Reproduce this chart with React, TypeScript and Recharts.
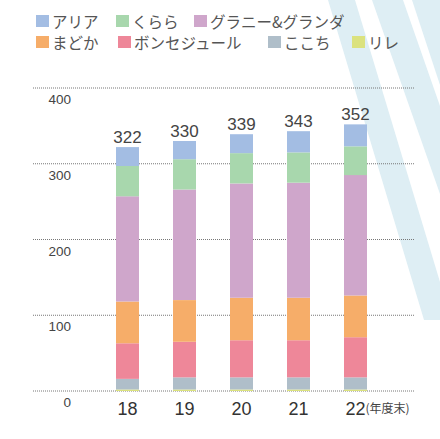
import { BarChart, Bar, XAxis, YAxis, CartesianGrid, LabelList } from 'recharts';

// fiscal years (end of year) and totals shown above the bars
const years = ['18', '19', '20', '21', '22'];
const totals = [322, 330, 339, 343, 352];

// per-series values
const aria = [25, 24, 25, 28, 29];
const kurara = [40, 40, 40, 40, 38];
const granny = [139, 146, 151, 152, 159];
const madoka = [55, 55, 56, 56, 55];
const bonse = [47, 47, 49, 49, 53];
const kokochi = [14, 16, 16, 16, 16];
const rire = [2, 2, 2, 2, 2];

const yTicks = [0, 100, 200, 300, 400];

// legend order (top of stack first)
const series = [
  { key: 'aria', name: 'アリア', color: '#a3bde3', values: aria },
  { key: 'kurara', name: 'くらら', color: '#a8d7ad', values: kurara },
  { key: 'granny', name: 'グラニー&グランダ', color: '#cfa6cb', values: granny },
  { key: 'madoka', name: 'まどか', color: '#f6ad69', values: madoka },
  { key: 'bonse', name: 'ボンセジュール', color: '#ee8799', values: bonse },
  { key: 'kokochi', name: 'ここち', color: '#afbec9', values: kokochi },
  { key: 'rire', name: 'リレ', color: '#dbe27e', values: rire },
];

const data = years.map((year, i) => {
  const row: Record<string, any> = { year, total: totals[i] };
  series.forEach((s) => {
    row[s.key] = s.values[i];
  });
  return row;
});

const NUM_FONT = '"Liberation Sans", Arial, sans-serif';
const JP_FONT = '"Noto Sans CJK JP", sans-serif';

// legend layout: x of each item, and its row
const legendLeft = [36, 116, 194, 36, 118, 268, 352];
const legendRow = [0, 0, 0, 1, 1, 1, 1];

function YTick(props: any) {
  const { x, y, payload } = props;
  return (
    <text x={x + 38} y={y + 16} textAnchor="end" fontSize={13.5} fill="#444" fontFamily={NUM_FONT}>
      {payload.value}
    </text>
  );
}

function XTick(props: any) {
  const { x, y, payload, index } = props;
  return (
    <g>
      <text x={x} y={y + 24} textAnchor="middle" fontSize={18} fill="#333" fontFamily={NUM_FONT}>
        {payload.value}
      </text>
      {index === years.length - 1 && (
        <text x={x + 10} y={y + 22} fontSize={12} fill="#444" fontFamily={JP_FONT}>
          (年度末)
        </text>
      )}
    </g>
  );
}

export default function App() {
  return (
    <div style={{ position: 'absolute', left: 0, top: 0, width: 440, height: 439, background: '#fff' }}>
      <svg width={440} height={439} style={{ position: 'absolute', left: 0, top: 0 }}>
        <polygon points="328,0 355,0 440,282 440,320 424,320" fill="#deeef4" />
        <polygon points="372,0 403,0 440,106 440,194" fill="#deeef4" />
        <polygon points="412,0 440,0 440,85" fill="#deeef4" />
      </svg>

      {series.map((s, i) => (
        <div
          key={s.key}
          style={{
            position: 'absolute',
            left: legendLeft[i],
            top: 12 + legendRow[i] * 21,
            height: 18,
            display: 'flex',
            alignItems: 'center',
            fontFamily: JP_FONT,
            fontSize: 15.5,
            color: '#555',
            whiteSpace: 'nowrap',
          }}
        >
          <span style={{ display: 'inline-block', width: 13, height: 12, background: s.color, marginRight: 3 }} />
          {s.name}
        </div>
      ))}

      <div style={{ position: 'absolute', left: 0, top: 0 }}>
        <BarChart width={440} height={439} data={data} margin={{ top: 88, right: 25, bottom: 0, left: 0 }}>
          <CartesianGrid vertical={false} stroke="#777" strokeDasharray="1 1" />
          <XAxis
            dataKey="year"
            height={48}
            axisLine={false}
            tickLine={false}
            tickSize={0}
            tickMargin={0}
            interval={0}
            padding={{ left: 66, right: 31 }}
            tick={<XTick />}
          />
          <YAxis
            width={33}
            domain={[0, 400]}
            ticks={yTicks}
            axisLine={false}
            tickLine={false}
            tickSize={0}
            tickMargin={0}
            tick={<YTick />}
          />
          {[...series].reverse().map((s) => (
            <Bar key={s.key} dataKey={s.key} name={s.name} stackId="a" fill={s.color} barSize={23} isAnimationActive={false}>
              {s.key === 'aria' && (
                <LabelList dataKey="total" position="top" offset={4} fill="#444" fontSize={17} fontFamily={NUM_FONT} />
              )}
            </Bar>
          ))}
        </BarChart>
      </div>
    </div>
  );
}
